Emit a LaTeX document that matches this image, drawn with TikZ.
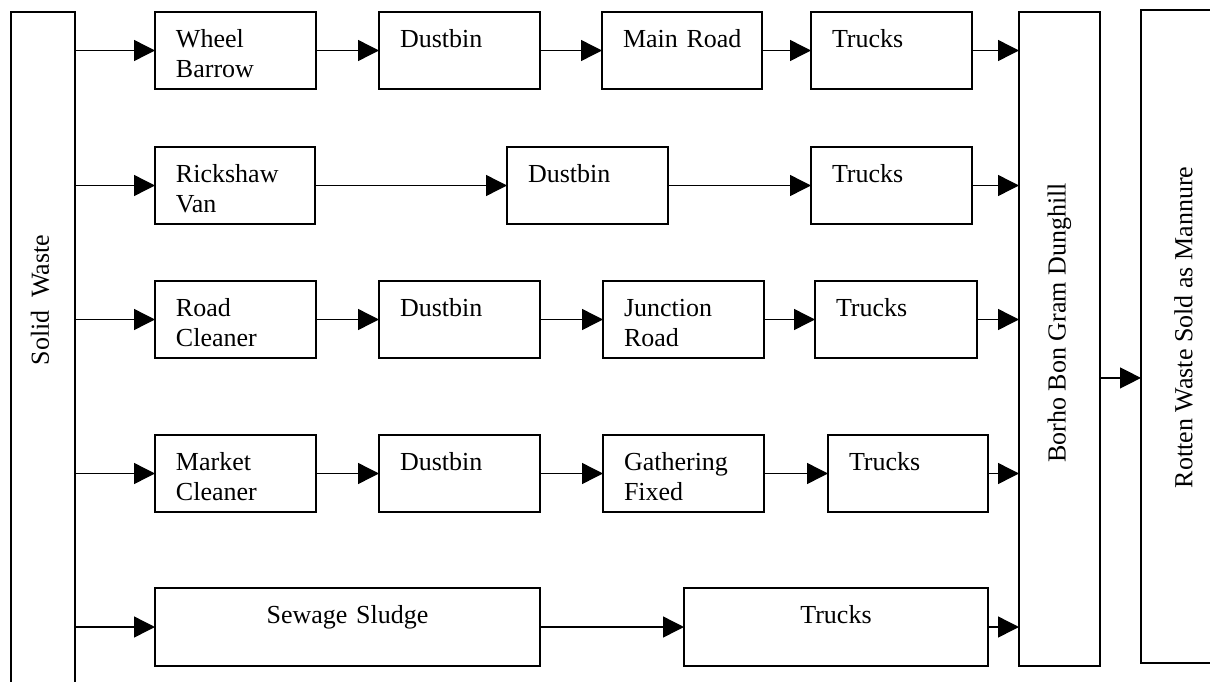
\documentclass[tikz,border=0pt]{standalone}
\usepackage{fontspec}
\setmainfont{Liberation Serif}
\usetikzlibrary{arrows.meta}

\begin{document}
\begin{tikzpicture}[x=0.02cm,y=-0.02cm]
\tikzstyle{box}=[draw,line width=1pt,rectangle,anchor=north west,outer sep=0pt,inner xsep=0.42cm,inner ysep=0pt,text height=0.7cm,text depth=0.84cm,align=left,text width=2.38cm,font=\fontsize{14.8}{17.6}\selectfont];
\tikzstyle{tall}=[draw,line width=1pt,rectangle,anchor=north west,outer sep=0pt,inner sep=0pt,font=\fontsize{14.8}{17.6}\selectfont];
\tikzstyle{side}=[rotate=90,inner sep=0pt,font=\fontsize{14.8}{17.6}\selectfont];
\tikzstyle{arr}=[-{Triangle[length=0.42cm,width=0.42cm]},line width=0.8pt];
\useasboundingbox (0,0) rectangle (1210,681);

\node[tall,minimum width=1.28cm,minimum height=13.76cm] (waste) at (11,12) {};
\node[side] (wastelbl) at (40,300) {Solid\ \ Waste};
\node[tall,minimum width=1.62cm,minimum height=13.08cm] (dung) at (1019,12) {\rotatebox{90}{\hspace*{0.64cm}Borho Bon Gram Dunghill}};
\node[tall,minimum width=1.7cm,minimum height=13.06cm] (rotten) at (1141,10) {\rotatebox{90}{\hspace*{0.36cm}Rotten Waste Sold as Mannure}};

\node[box] (wb) at (155,12) {Wheel\\Barrow};
\node[box] (db1) at (379,12) {Dustbin};
\node[box,text width=2.36cm] (mr) at (602,12) {\mbox{Main Road}};
\node[box] (tr1) at (811,12) {Trucks};

\node[box,text width=2.36cm] (rv) at (155,147) {Rickshaw\\Van};
\node[box] (db2) at (507,147) {Dustbin};
\node[box] (tr2) at (811,147) {Trucks};

\node[box] (rc) at (155,281) {Road\\Cleaner};
\node[box] (db3) at (379,281) {Dustbin};
\node[box] (jr) at (603,281) {Junction\\Road};
\node[box,text width=2.4cm] (tr3) at (815,281) {Trucks};

\node[box] (mc) at (155,435) {Market\\Cleaner};
\node[box] (db4) at (379,435) {Dustbin};
\node[box] (gf) at (603,435) {Gathering\\Fixed};
\node[box,text width=2.36cm] (tr4) at (828,435) {Trucks};

\node[box,align=center,text width=6.86cm,text depth=0.86cm] (ss) at (155,588) {Sewage Sludge};
\node[box,align=center,text width=5.24cm,text depth=0.86cm] (tr5) at (684,588) {Trucks};

\foreach \n in {wb,rv,rc,mc,ss}
  \draw[arr] (waste.east |- \n.west) -- (\n.west);
\foreach \a/\b in {wb/db1,db1/mr,mr/tr1,rv/db2,db2/tr2,rc/db3,db3/jr,jr/tr3,mc/db4,db4/gf,gf/tr4,ss/tr5}
  \draw[arr] (\a) -- (\b);
\foreach \n in {tr1,tr2,tr3,tr4,tr5}
  \draw[arr] (\n.east) -- (dung.west |- \n.east);
\draw[arr] ([yshift=-0.78cm]dung.east) -- ([yshift=-0.78cm]dung.east -| rotten.west);
\end{tikzpicture}
\end{document}
